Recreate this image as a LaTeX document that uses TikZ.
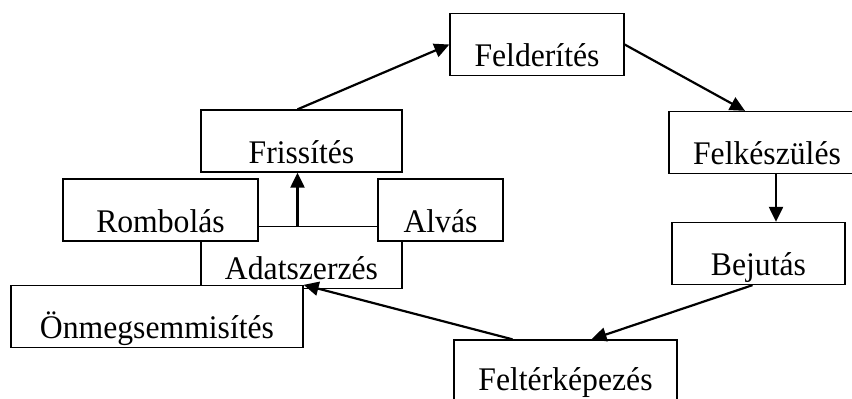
\documentclass[tikz,border=0pt]{standalone}
\usepackage{fontspec}
\setmainfont{Liberation Serif}[FakeStretch=0.96]
\usetikzlibrary{arrows.meta}

\begin{document}
\begin{tikzpicture}[x=1pt,y=-1pt,
  stagebox/.style={draw, fill=white, line width=1.3pt, inner sep=0pt,
    minimum height=62pt, text height=44pt, text depth=0pt,
    font=\fontsize{33}{39}\selectfont},
  stagearrow/.style={->, >={Triangle[length=15pt,width=14pt]}, line width=2.2pt}]
\path[use as bounding box] (0,0) rectangle (852,399);
\clip (0,0) rectangle (852,399);
% hidden box first, the others cover it
\node[stagebox, minimum width=201pt] (adatszerzes) at (301.5,257.5) {Adatszerzés};
\node[stagebox, minimum width=174pt] (felderites) at (537,44.5) {Felderítés};
\node[stagebox, minimum width=201pt] (frissites) at (301.5,141) {Frissítés};
\node[stagebox, minimum width=196pt] (felkeszules) at (767,142.5) {Felkészülés};
\node[stagebox, minimum width=173pt] (bejutas) at (758.5,253.5) {Bejutás};
\node[stagebox, minimum width=195pt] (rombolas) at (160.5,210) {Rombolás};
\node[stagebox, minimum width=125pt] (alvas) at (440.5,210) {Alvás};
\node[stagebox, minimum width=292pt] (onmegsemmisites) at (157,316.5) {Önmegsemmisítés};
\node[stagebox, minimum width=223pt, text height=38pt] (felterkepezes) at (565.5,371) {Feltérképezés};
% cycle
\draw[stagearrow] ([xshift=-4pt]frissites.north) -- (felderites.west);
\draw[stagearrow] (felderites.east) -- ([xshift=-22pt]felkeszules.north);
\draw[stagearrow] ([xshift=9pt]felkeszules.south) -- ([xshift=9pt]felkeszules.south |- bejutas.north);
\draw[stagearrow] ([xshift=-6pt]bejutas.south) -- ([xshift=26pt]felterkepezes.north);
\draw[stagearrow] ([xshift=-53pt]felterkepezes.north) -- (onmegsemmisites.north east);
\draw[stagearrow] ([xshift=-4pt]adatszerzes.north) -- ([xshift=-4pt]adatszerzes.north |- frissites.south);
\end{tikzpicture}
\end{document}
